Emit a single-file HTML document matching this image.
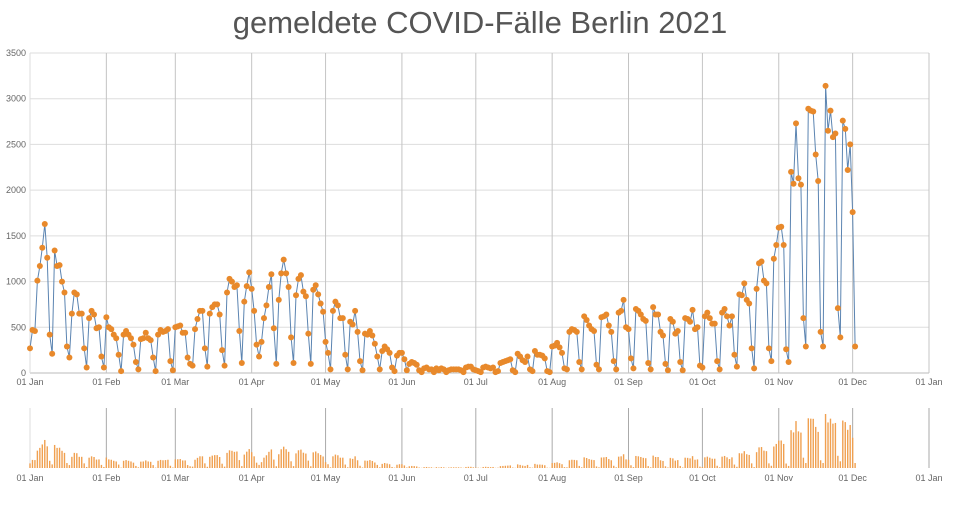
<!DOCTYPE html>
<html><head><meta charset="utf-8"><style>
body{margin:0;background:#fff;font-family:"Liberation Sans",sans-serif}
svg text{font-family:"Liberation Sans",sans-serif}
</style></head><body>
<svg id="c" width="960" height="500">
<text x="480" y="33" text-anchor="middle" font-size="31" fill="#555">gemeldete COVID-Fälle Berlin 2021</text>
<g id="grid"></g><g id="main"></g><g id="slider"></g>
</svg>
<script>
const jan=[270,470,460,1010,1170,1370,1630,1260,420,210,1340,1170,1180,1000,880,290,170,650,880,860,650,650,270,60,600,680,640,490,500,180,60];
const feb=[610,500,480,420,380,200,20,420,460,420,380,310,120,40,370,380,440,380,360,170,20,420,470,450,460,480,130,30];
const mar=[500,510,520,440,440,170,100,80,480,590,680,680,270,70,650,720,750,750,640,250,80,880,1030,1000,940,960,460,110,780,950,1100];
const apr=[920,680,310,180,340,600,740,940,1080,490,100,800,1090,1240,1090,940,390,110,850,1030,1070,890,840,430,100,910,960,860,760,670];
const may=[340,220,40,680,780,740,600,600,200,40,560,530,680,450,130,30,430,420,460,410,320,180,40,240,290,260,220,60,20,190,220];
const jun=[220,150,30,100,120,110,90,30,10,50,60,40,40,10,50,30,50,40,10,30,40,40,40,40,30,10,60,70,70,40];
const jul=[30,20,10,60,70,60,50,60,10,20,110,120,130,140,150,30,10,210,180,140,120,180,40,20,240,200,200,190,160,20,10];
const aug=[290,300,330,280,220,50,40,450,480,470,450,120,40,620,580,520,480,460,90,40,610,620,640,520,450,130,40,660,680,800,500];
const sep=[480,160,50,700,680,640,590,570,110,40,720,640,640,450,410,100,30,590,560,430,460,120,30,600,590,560,690,480,500,80];
const oct=[60,620,660,600,540,540,130,40,660,700,620,520,620,200,70,860,850,980,800,760,270,50,920,1200,1220,1010,980,270,130,1250,1400];
const nov=[1590,1600,1400,260,120,2200,2070,2730,2130,2060,600,290,2890,2870,2860,2390,2100,450,290,3140,2650,2870,2580,2620,710,390,2760,2670,2220,2500];
const dec=[1760,290];
const cases=[].concat(jan,feb,mar,apr,may,jun,jul,aug,sep,oct,nov,dec);
const monthLabels=["01 Jan","01 Feb","01 Mar","01 Apr","01 May","01 Jun","01 Jul","01 Aug","01 Sep","01 Oct","01 Nov","01 Dec","01 Jan"];
const monthStartDays=[0,31,59,90,120,151,181,212,243,273,304,334,365];
const yTicks=[0,500,1000,1500,2000,2500,3000,3500];

const NS="http://www.w3.org/2000/svg";
const X0=30,X1=929,Y0=373,Y1=53,SY0=468,SY1=414;
const xs=d=>X0+d*(X1-X0)/365;
const ys=v=>Y0-v*(Y0-Y1)/3500;
const ss=v=>SY0-v*(SY0-SY1)/3140;
function mk(tag,attrs,parent){const e=document.createElementNS(NS,tag);for(const k in attrs)e.setAttribute(k,attrs[k]);parent.appendChild(e);return e;}
const grid=document.getElementById('grid'),main=document.getElementById('main'),sl=document.getElementById('slider');

yTicks.forEach(t=>{
  const l=mk('line',{x1:X0,x2:X1,y1:ys(t),y2:ys(t),stroke:t===0?'#bbb':'#ddd','stroke-width':1},grid);
  
  
  const tx=mk('text',{x:X0-4,y:ys(t)+3,'text-anchor':'end','font-size':9,fill:'#666'},grid);
  tx.textContent=t;
  
  
});
monthStartDays.forEach((d,i)=>{
  const x=xs(d);
  const l=mk('line',{x1:x,x2:x,y1:Y1,y2:Y0,stroke:i===0?'#ddd':'#c4c4c4','stroke-width':1},grid);
  
  
  const tx=mk('text',{x:x,y:Y0+12,'text-anchor':'middle','font-size':9,fill:'#666'},grid);
  tx.textContent=monthLabels[i];
  
  
  const l2=mk('line',{x1:x,x2:x,y1:408,y2:SY0,stroke:i===0?'#ddd':'#aaa','stroke-width':1},sl);
  
  
  const t2=mk('text',{x:x,y:SY0+13,'text-anchor':'middle','font-size':9,fill:'#666'},sl);
  t2.textContent=monthLabels[i];
  
  
});
const sb=mk('rect',{x:X0,y:408,width:X1-X0,height:SY0-408,fill:'transparent',stroke:'none'},sl);



const pts=cases.map((v,i)=>xs(i).toFixed(1)+','+ys(v).toFixed(1)).join(' ');
const line=mk('polyline',{points:pts,fill:'none',stroke:'#5b84b1','stroke-width':1},main);


cases.forEach((v,i)=>{
  const c=mk('circle',{cx:xs(i),cy:ys(v),r:3,fill:'#e8892b'},main);
  
  
  const b=mk('rect',{x:xs(i)-0.7,y:ss(v),width:1.4,height:SY0-ss(v),fill:'#f0a050'},sl);
  
  
});
</script>
</body></html>
